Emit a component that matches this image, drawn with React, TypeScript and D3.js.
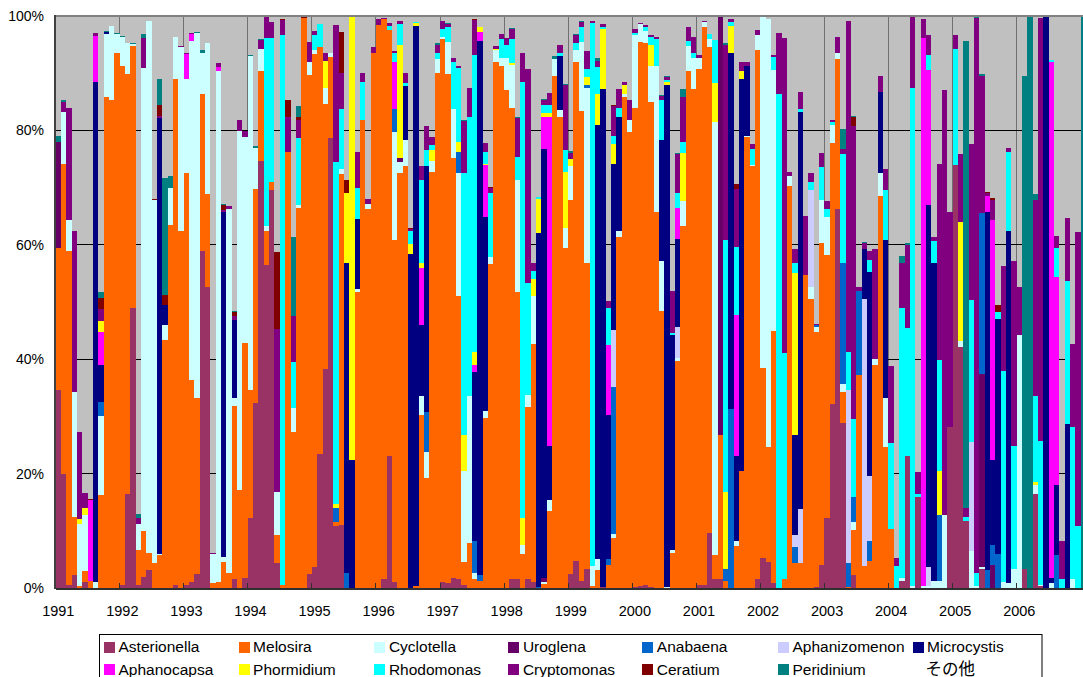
import React from "react";
import * as d3 from "d3";

// Each bar lists the cumulative height (%) reached at the top of each genus present.
type Bar = Partial<Record<string, number>>;

const KEYS = ["a", "m", "c", "u", "n", "z", "y", "p", "h", "r", "k", "e", "d"];
const NAMES = ["Asterionella", "Melosira", "Cyclotella", "Uroglena", "Anabaena", "Aphanizomenon", "Microcystis", "Aphanocapsa", "Phormidium", "Rhodomonas", "Cryptomonas", "Ceratium", "Peridinium"];
const COLORS = ["#993366", "#FF6600", "#CCFFFF", "#660066", "#0066CC", "#CCCCFF", "#000080", "#FF00FF", "#FFFF00", "#00FFFF", "#800080", "#800000", "#008080"];
const OTHER_LABEL = "その他";
const YEARS = d3.range(1991, 2007);
const Y_TICKS = [0, 20, 40, 60, 80, 100];

const y1991: Bar[] = [
  { a: 34.7, m: 59.5, u: 78, d: 79 },
  { a: 20, m: 74.2, c: 83.3, k: 84.9, d: 85.3 },
  { a: 0.6, m: 58.9, c: 64.3, k: 83.9 },
  { a: 2.3, m: 12.5, c: 34.3, k: 62.5 },
  { m: 0.3, c: 11.2, h: 12, k: 27.2 },
  { a: 1, m: 3, c: 12.8, h: 14, k: 16.6 },
  { m: 1.2, p: 15.3, e: 15.6 },
  { c: 1.1, y: 88.5, p: 96.5, k: 97 },
  { m: 16.2, c: 30, n: 32.6, y: 38.9, p: 44.7, h: 46.6, k: 48.7, e: 50.7, d: 51.8 },
  { m: 85.8, c: 96.8, y: 97.2, d: 97.4 },
  { m: 85.4, c: 98.2 },
  { m: 93.5, c: 96.8, d: 97 },
];
const y1992: Bar[] = [
  { a: 0.5, m: 91.2, c: 96.3, d: 96.5 },
  { a: 16.5, m: 89.8, c: 95.2 },
  { a: 48.9, m: 94.7, c: 95.1, d: 95.2 },
  { a: 0.5, m: 6.6, c: 11.2, k: 12.2, d: 13 },
  { a: 2, m: 9.9, c: 90.9, k: 96.2, d: 96.8 },
  { a: 3.2, m: 6.2, c: 99.2 },
  { m: 4.3, c: 67.8, e: 68 },
  { m: 5.8, c: 5.9, y: 82.1, k: 82.5, e: 84.4, d: 89 },
  { m: 43.3, c: 45.9, y: 49.5, e: 51.2, d: 71.7 },
  { m: 63.4, c: 70, d: 72 },
  { a: 0.6, m: 89, c: 96.4 },
  { m: 62.4, c: 94.5, k: 94.7 },
];
const y1993: Bar[] = [
  { a: 0.6, m: 72.6, c: 89, p: 93.3, k: 93.5 },
  { a: 1, m: 36.4, c: 95.6, p: 96.8, k: 97 },
  { a: 2.4, m: 33.2, c: 97, d: 97.2 },
  { a: 59, m: 86.4, c: 93.6, d: 94 },
  { a: 52.6, m: 68.8, c: 95.2, d: 95.3 },
  { m: 0.8, c: 5.9, k: 6.2 },
  { m: 1, c: 90.3, p: 91.1, k: 91.7 },
  { m: 4.5, c: 5.5, y: 65.7, k: 66.1, e: 67, d: 67.2 },
  { m: 2.6, c: 66.2, k: 66.7 },
  { a: 1.5, m: 31.8, c: 33.2, y: 46.8, k: 47.6, e: 48.2, d: 48.4 },
  { m: 17.2, c: 79.9, k: 81.8 },
  { a: 1.8, m: 42.8, c: 78.9, k: 79.9 },
];
const y1994: Bar[] = [
  { a: 12.2, m: 34.7, c: 93, d: 93.2 },
  { a: 32.4, m: 69.7, c: 77, d: 77.2 },
  { a: 74.7, m: 90.3, c: 94.3, k: 95.8, d: 95.9 },
  { a: 56.4, m: 62.5, c: 63.2, r: 96.2, k: 100 },
  { a: 69.5, m: 70.9, r: 96.2, k: 98.9 },
  { a: 4.3, m: 9.3, c: 16.7, k: 45.2, e: 58.7 },
  { m: 0.5, r: 96.6, k: 99.3, e: 99.4 },
  { m: 76.3, k: 82.3, e: 85.3 },
  { m: 27.2, c: 31.4, r: 39.5, k: 47.5, d: 61.3 },
  { m: 66.5, c: 66.9, r: 78.6, k: 81.8, e: 82.4, d: 84.2 },
  { m: 99.7, e: 99.8 },
  { a: 2.4, m: 89.6, c: 92, k: 95.4 },
];
const y1995: Bar[] = [
  { a: 3.6, m: 93.3, c: 94, r: 96.7, k: 97.3 },
  { a: 23.4, m: 94.6, r: 98.6 },
  { a: 38.2, m: 84.7, c: 87.4, h: 92.2, k: 93.6 },
  { a: 78.6, m: 92.8, c: 93.6 },
  { a: 10.8, m: 11.6, n: 13.9, h: 14.6, r: 74.4, k: 98.4 },
  { a: 11.1, m: 72.3, c: 73.2, r: 83.7, k: 90, e: 97.2 },
  { n: 2.6, y: 56.8, h: 69, e: 71.3 },
  { y: 22.3, h: 100 },
  { m: 51.8, c: 52.2, y: 64.5, r: 70, k: 76.3 },
  { m: 81.8, r: 88.4, k: 90.1 },
  { m: 66.2, c: 67.2, k: 68 },
  { m: 93.6, k: 94.5 },
];
const y1996: Bar[] = [
  { m: 98.4, k: 99.4 },
  { a: 1.5, m: 99.4, k: 99.6 },
  { a: 23, m: 97.5, r: 98.2, k: 98.7 },
  { a: 1, m: 60.9, c: 79.7, n: 83.7, p: 92, r: 93.5, k: 93.8 },
  { m: 72.6, c: 74.4, u: 75.1, h: 95, r: 98.6, k: 99.1 },
  { m: 73.7, c: 78.3, y: 87.7, r: 88.2, k: 90 },
  { y: 58.4, h: 60.2, r: 62.4, k: 62.8, e: 63 },
  { m: 0.3, y: 98.2, h: 98.7, r: 99 },
  { m: 30.3, c: 33.5, y: 45.9, p: 55.9, h: 56.8, r: 71.4, k: 73.7 },
  { m: 19.3, c: 23.7, n: 30.7, y: 73.8, r: 76.5, k: 80.7 },
  { m: 72.8, c: 74.7, h: 76.6, r: 77.4, k: 78.8, d: 78.9 },
  { m: 90, c: 92.4, r: 93.6, k: 94.9, d: 95.2 },
];
const y1997: Bar[] = [
  { a: 1, m: 95.9, c: 96.4, r: 97.8, k: 99.1 },
  { a: 0.8, m: 89.8, c: 95.4, r: 98, k: 98.6, d: 98.7 },
  { a: 1.8, m: 75.1, c: 83.7, r: 91.9, k: 92.6 },
  { a: 1.5, m: 51, c: 72.6, n: 76.3, h: 77.9, r: 90.9, k: 91.2 },
  { a: 0.5, m: 4.5, c: 20.5, h: 26.7, r: 72.5, k: 81.7, d: 81.9 },
  { m: 7.8, c: 33.5, r: 82.3, k: 87.5 },
  { m: 1.6, c: 2.6, n: 8.2, y: 37.7, p: 39, h: 41.2, r: 93.1, k: 99.3, e: 99.4 },
  { m: 1.2, c: 1.3, n: 2.2, y: 95.7, p: 97.2, h: 98 },
  { m: 29.8, c: 31, y: 64.8, p: 73.9, h: 74.2, r: 76.2, k: 77.8 },
  { m: 56.6, c: 57.8, r: 69, k: 70, e: 70.1 },
  { m: 92, c: 94.1, h: 94.3, k: 94.7 },
  { m: 91.2, c: 92.6, r: 95.9, k: 96.8 },
];
const y1998: Bar[] = [
  { m: 87, c: 92.6, r: 94.9, k: 96.1 },
  { a: 1.6, m: 84, c: 91.4, h: 91.7, r: 95.9, k: 97.8, d: 97.9 },
  { a: 1.5, m: 51.7, c: 71.4, r: 75.3, k: 82.2, d: 82.3 },
  { m: 5.9, c: 7.6, h: 12.2, r: 88.4, k: 93.6 },
  { a: 1.6, m: 31.6, c: 33.8, r: 53.4, k: 90.7 },
  { a: 1, m: 42.6, c: 51, h: 54, r: 55.5, k: 56.9 },
  { n: 0.2, y: 62, h: 68, r: 68.3 },
  { m: 0.7, c: 1, u: 1.8, y: 76.8, p: 82.4, h: 83, r: 84.5, k: 85.4, d: 85.5 },
  { m: 13.5, c: 15.3, y: 24.9, p: 82.4, h: 83, r: 84.5, k: 86.6 },
  { m: 89.5, c: 92.5, d: 93 },
  { m: 82.3, c: 83.5, y: 93, r: 93.6, k: 95 },
  { m: 59.5, c: 63, h: 72.8, r: 76.5, k: 88, d: 88.1 },
];
const y1999: Bar[] = [
  { a: 2.5, m: 67.8, c: 73.7, h: 75, k: 76, d: 76.4 },
  { a: 4.8, m: 92, c: 94.1, r: 95.2, k: 96.7, d: 96.8 },
  { a: 1.3, m: 83.4, c: 95.4, r: 98, k: 99, d: 99.2 },
  { a: 3.3, m: 56.9, c: 87.4, n: 88, h: 89.3, r: 90.7, k: 93.8 },
  { m: 0.3, c: 3.8, r: 98.7, k: 99.2 },
  { m: 3.1, c: 5, y: 80.9, h: 86.3, r: 91.1, k: 92.2, d: 92.6 },
  { a: 0.2, y: 87.2, h: 97.7, r: 98.1, k: 98.6 },
  { m: 4.1, n: 5, y: 30.2, p: 42.4, r: 48.9, k: 50.1 },
  { m: 8.7, c: 9.5, n: 35.1, z: 45.1, y: 74.1, h: 77.6, r: 79.1, k: 84.2, e: 84.5 },
  { m: 61.3, c: 62.5, y: 82.4, r: 84, k: 87.2 },
  { m: 85.9, c: 86.3, h: 88, k: 88.4 },
  { m: 79.7, c: 81.8, k: 85.3 },
];
const y2000: Bar[] = [
  { a: 0.1, m: 83.9, c: 96.7, r: 97, k: 97.8 },
  { a: 0.3, m: 95.4, c: 98.6, k: 98.8 },
  { a: 0.5, m: 95.2, c: 97.4, r: 98, k: 98.4, d: 98.5 },
  { a: 0.2, m: 84.9, c: 91.2, h: 95, r: 96.4, k: 96.6 },
  { m: 65.7, c: 91.2, r: 96, k: 96.3, d: 96.4 },
  { m: 48.4, c: 57.1, y: 78.4, r: 85.4, k: 86.1, d: 86.2 },
  { c: 0.2, y: 87.9, h: 88.4, r: 88.8, k: 89.3, d: 89.5 },
  { m: 6.2, c: 6.6, y: 44.3, r: 44.5, k: 52 },
  { m: 39.6, c: 40.2, z: 45.6, y: 61.1, p: 66.5, r: 69, k: 75.9, d: 76 },
  { m: 63.2, c: 67.6, h: 76, r: 77.9, k: 85.9, d: 87.2 },
  { m: 90.3, c: 94.8, r: 95.6, k: 98 },
  { m: 87.2, c: 92.7, r: 93.5, k: 96.3 },
];
const y2001: Bar[] = [
  { a: 0.6, m: 90.7, c: 92.6, k: 93.1 },
  { a: 0.6, m: 98, c: 99, k: 99.1 },
  { a: 9.7, m: 94.5, c: 96, r: 96.8, k: 96.9 },
  { a: 1.5, m: 5.7, c: 81.4, h: 88.3, r: 95.8 },
  { a: 1.5, m: 26.7, u: 99.8 },
  { m: 1.3, n: 3.4, h: 16.7, r: 60.9, k: 95, d: 95.2 },
  { n: 31.3, y: 93.5, h: 98.2, r: 99, k: 99.5 },
  { m: 7.3, c: 8.2, y: 23, p: 47.8, r: 59.7, k: 69.7, e: 70.6 },
  { m: 20.5, y: 89, h: 90.3, k: 92 },
  { m: 78.8, c: 79, y: 91.2, k: 92 },
  { m: 73.7, c: 73.9, r: 76.7, k: 77.6 },
  { a: 1.6, m: 94, c: 96.7, k: 97.6 },
];
const y2002: Bar[] = [
  { a: 5.3, m: 38.4, c: 100 },
  { a: 4.6, m: 24.7, c: 99.4 },
  { a: 0.8, m: 45, c: 90.5, r: 92.8, k: 93.1 },
  { r: 86.4, k: 97 },
  { m: 1.6, r: 41, k: 96.1 },
  { m: 70.2, c: 72, k: 72.8 },
  { m: 4.3, n: 7.1, z: 9.3, y: 26.8, h: 55, r: 56.8, k: 59.2 },
  { m: 4.3, z: 13.8, y: 83.2, r: 83.7, k: 86.8 },
  { m: 54.8, k: 65 },
  { m: 50.6, c: 52.7, z: 69.6, r: 70.9, k: 72.5 },
  { a: 0.2, m: 44.7, c: 45.6, n: 45.9, k: 46.1 },
  { a: 4.1, m: 60.4, c: 67.8, r: 73.6, k: 76 },
];
const y2003: Bar[] = [
  { a: 12.2, m: 58.2, c: 64.8, r: 66.2, k: 67.6 },
  { a: 32.1, m: 77.8, c: 81, r: 81.5, k: 81.9 },
  { a: 66.2, m: 92.4, c: 93.6, k: 96.3 },
  { a: 28.8, m: 34.3, c: 35.6, n: 56.9, r: 75.8, k: 76.7, d: 80.3 },
  { m: 0.2, n: 4.3, z: 34.7, r: 41.2, k: 99.2 },
  { a: 2.2, m: 10.1, c: 11.6, n: 15.9, r: 29.5, k: 80.8, e: 82.4, d: 82.6 },
  { m: 37.2, n: 52, k: 52.7 },
  { m: 3.9, z: 50.5, y: 59.3, k: 60.4, d: 60.5 },
  { m: 4.8, n: 8.3, z: 19.5, y: 55.3, r: 57.3, k: 58.9 },
  { m: 39, c: 40, k: 59.2 },
  { m: 68.6, c: 72.5, y: 86.8, k: 89.5 },
  { m: 24.6, c: 33.2, y: 60.8, r: 69.5, k: 73.2 },
];
const y2004: Bar[] = [
  { m: 10.3, r: 25.3, k: 38.8 },
  { r: 3.8, k: 5.3 },
  { a: 1.3, c: 1.8, r: 48.9, k: 56.9, d: 58 },
  { a: 23, r: 45.4, k: 59.9, d: 60.4 },
  { c: 0.3, r: 87.5, k: 99.8, d: 100 },
  { a: 15.9, r: 16.4, k: 20.2 },
  { c: 0.3, p: 96.2, k: 99.4 },
  { c: 0.3, z: 3.6, y: 66.9, p: 90.5, r: 93.1, k: 96.6 },
  { c: 1.3, y: 56.9, r: 60.7, k: 61.3 },
  { c: 1.3, n: 12.7, h: 20.5, r: 39.8, k: 74.1 },
  { c: 12.7, k: 87 },
  { a: 28.1, k: 65.7 },
];
const y2005: Bar[] = [
  { a: 73.9, r: 94.3, k: 96.6 },
  { a: 42.2, c: 43.2, h: 63.9, k: 75.8 },
  { a: 11.8, r: 12.4, k: 14, d: 95.7 },
  { c: 6.4, z: 25.5, r: 50.3, k: 77.6 },
  { c: 0.4, r: 2.6, k: 99.7, d: 100 },
  { a: 3.4, c: 3.7, u: 37.5, n: 65.5, k: 89.5, d: 89.8 },
  { n: 3.2, y: 65.7, p: 68.6, k: 69, e: 69.3 },
  { u: 4.1, n: 7.6, y: 22.3, p: 64.3, k: 67.8, e: 68.1 },
  { n: 5.9, y: 47, r: 48.2, e: 49.4 },
  { c: 1.1, r: 37.9, k: 56.3 },
  { c: 0.9, y: 62.4, r: 76.2, k: 77 },
  { c: 3.4, r: 24.9, k: 57.1 },
];
const y2006: Bar[] = [
  { c: 44.3, k: 52.7 },
  { a: 3.4, d: 89.5 },
  { d: 100 },
  { a: 16.4, c: 18, h: 18.5, r: 33.5, k: 67.8, d: 68.8 },
  { a: 0.3, c: 0.5, r: 25.7, k: 99.7 },
  { y: 100 },
  { c: 0.8, y: 1.8, p: 92, r: 92.3 },
  { n: 5.7, y: 18, p: 54.3, r: 59.5, k: 61.6 },
  { r: 1.6, k: 8.3 },
  { y: 28.6, r: 53.6, k: 64.6 },
  { c: 1.5, r: 28.1, k: 42.6 },
  { r: 10.9, k: 62.2 },
];
const y2007: Bar[] = [{ d: 100 }];

const BARS: Bar[] = [y1991, y1992, y1993, y1994, y1995, y1996, y1997, y1998, y1999, y2000, y2001, y2002, y2003, y2004, y2005, y2006, y2007].flat();

// Turn cumulative readings into per-genus values for d3.stack
const TABLE = BARS.map((bar) => {
  let prev = 0;
  const row: Record<string, number> = {};
  KEYS.forEach((k) => {
    const top = bar[k];
    if (top === undefined) row[k] = 0;
    else {
      row[k] = top - prev;
      prev = top;
    }
  });
  return row;
});

const W = 1083;
const H = 677;
const LEFT = 55.6;
const BAR_W = 5.339;
const TOP = 16;
const BOTTOM = 588;
const FONT = "'Liberation Sans', Arial, sans-serif";

export default function App() {
  const x = d3.scaleLinear().domain([0, 192]).range([LEFT, LEFT + 192 * BAR_W]);
  const yS = d3.scaleLinear().domain([0, 100]).range([BOTTOM, TOP]);
  const layers = d3.stack<Record<string, number>>().keys(KEYS)(TABLE);
  const yearIdx = YEARS.map((_, i) => i * 12);
  const legendX = [104, 238.6, 374.4, 508.4, 642.3, 778, 912.6];
  const right = W + 4;

  return (
    <svg width={W} height={H} style={{ position: "absolute", left: 0, top: 0, background: "#fff" }} fontFamily={FONT}>
      <rect x={LEFT} y={TOP} width={right - LEFT} height={BOTTOM - TOP} fill="#C0C0C0" />
      <g shapeRendering="crispEdges">
        {yearIdx.slice(1).map((i) => (
          <line key={i} x1={x(i)} x2={x(i)} y1={TOP} y2={BOTTOM} stroke="#707070" />
        ))}
        {Y_TICKS.slice(1, -1).map((t) => (
          <line key={t} x1={LEFT} x2={right} y1={yS(t)} y2={yS(t)} stroke="#000" />
        ))}
        {layers.map((layer, li) => (
          <g key={layer.key} fill={COLORS[li]}>
            {layer.map((d, i) =>
              d[1] - d[0] > 0 ? (
                <rect
                  key={i}
                  x={Math.round(x(i))}
                  width={Math.round(x(i + 1)) - Math.round(x(i))}
                  y={Math.round(yS(d[1]))}
                  height={Math.round(yS(d[0])) - Math.round(yS(d[1]))}
                />
              ) : null
            )}
          </g>
        ))}
        <line x1={LEFT} x2={right} y1={TOP - 0.5} y2={TOP - 0.5} stroke="#808080" strokeWidth={2} />
        <line x1={LEFT - 0.5} x2={LEFT - 0.5} y1={TOP - 1} y2={BOTTOM + 1} stroke="#404040" strokeWidth={1.5} />
        <line x1={LEFT} x2={right} y1={BOTTOM + 0.5} y2={BOTTOM + 0.5} stroke="#303030" strokeWidth={2} />
        {yearIdx.slice(1).map((i) => (
          <line key={i} x1={x(i)} x2={x(i)} y1={BOTTOM - 5} y2={BOTTOM} stroke="#303030" />
        ))}
      </g>
      {Y_TICKS.map((t) => (
        <text key={t} x={44} y={yS(t) + 5} textAnchor="end" fontSize={14} fill="#000">
          {t}%
        </text>
      ))}
      {YEARS.map((yr, i) => (
        <text key={yr} x={x(i * 12 + 0.5)} y={616} textAnchor="middle" fontSize={14.5} fill="#000">
          {yr}
        </text>
      ))}
      <rect x={99.5} y={634.5} width={942.5} height={60} fill="#fff" stroke="#000" />
      {NAMES.map((name, i) => {
        const col = i % 7;
        const row = i < 7 ? 0 : 1;
        const ly = row === 0 ? 642 : 664;
        return (
          <g key={name}>
            <rect x={Math.round(legendX[col])} y={ly} width={11} height={11} fill={COLORS[i]} shapeRendering="crispEdges" />
            <text x={legendX[col] + 14.5} y={ly + (row === 0 ? 10 : 10.5)} fontSize={15.5} fill="#000">
              {name}
            </text>
          </g>
        );
      })}
      <text x={legendX[6] + 13} y={675} fontSize={16.5} fill="#000" fontFamily="'Noto Sans CJK JP', sans-serif">
        {OTHER_LABEL}
      </text>
    </svg>
  );
}
